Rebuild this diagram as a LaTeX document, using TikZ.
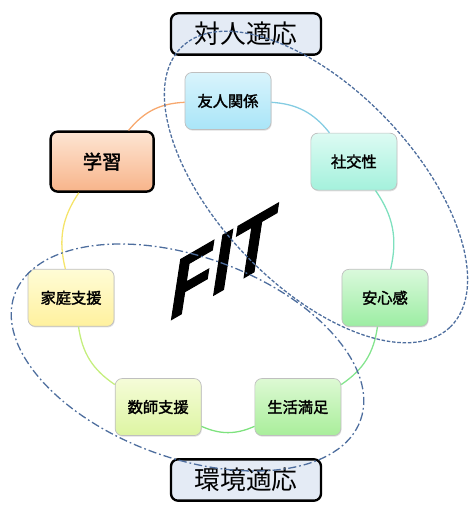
\documentclass[tikz,border=0pt]{standalone}
\usepackage{fontspec}
\setmainfont{Liberation Sans}
\newfontfamily\jpfont{Noto Sans CJK JP}
\newfontfamily\jpbold[FakeBold=2]{Noto Sans CJK JP}
\newfontfamily\logofont[FakeBold=1.5]{Liberation Sans}
\usetikzlibrary{%
	calc,%
	shadows%
}
% factor colours (top / bottom of the shading)
\definecolor{yujinA}{HTML}{D9F4FC}\definecolor{yujinB}{HTML}{A9E5F8}
\definecolor{shakouA}{HTML}{DDFBF3}\definecolor{shakouB}{HTML}{A4F1DC}
\definecolor{anshinA}{HTML}{DAF9DC}\definecolor{anshinB}{HTML}{9CEDA3}
\definecolor{seikatsuA}{HTML}{DDF9D3}\definecolor{seikatsuB}{HTML}{A9EE9B}
\definecolor{kyoshiA}{HTML}{F5FCD8}\definecolor{kyoshiB}{HTML}{DDF5A2}
\definecolor{kateiA}{HTML}{FFFCD6}\definecolor{kateiB}{HTML}{FFF19E}
\definecolor{gakushuA}{HTML}{FDE5D3}\definecolor{gakushuB}{HTML}{F8B48A}
\definecolor{labelfill}{HTML}{E4EBF5}
\definecolor{ovalblue}{HTML}{4E6E9E}
% ring colours
\definecolor{ringOrange}{HTML}{F7A86E}
\definecolor{ringYellow}{HTML}{F5E46A}
\definecolor{ringLime}{HTML}{C5EE7E}
\definecolor{ringGreen}{HTML}{7EE27E}
\definecolor{ringMint}{HTML}{84E48E}
\definecolor{ringAqua}{HTML}{7EE0BE}
\definecolor{ringSky}{HTML}{84CCE2}

\tikzset{
	factor/.style={rounded corners=6pt, draw=black!25, line width=0.6pt,
		minimum width=2.58cm, minimum height=1.71cm,
		font=\jpbold\fontsize{13}{13}\selectfont,
		drop shadow={shadow xshift=0.6pt, shadow yshift=-1pt, opacity=0.25}},
	keyfactor/.style={factor, draw=black, line width=2pt,
		minimum width=3.09cm, minimum height=1.8cm,
		font=\jpbold\fontsize{16.5}{16.5}\selectfont},
	adaptbox/.style={rounded corners=6pt, draw=black, line width=2pt, fill=labelfill,
		minimum width=4.5cm, minimum height=1.24cm,
		font=\jpfont\fontsize{22}{22}\selectfont},
	ringline/.style={line width=1.1pt},
	oval/.style={ovalblue, line width=1.1pt}
}

\begin{document}
\begin{tikzpicture}[x=0.03cm, y=0.03cm]
	\useasboundingbox (0,0) rectangle (469,507);
	\coordinate (ring) at (228,245);
	% the seven factors round the ring
	\node[keyfactor, top color=gakushuA, bottom color=gakushuB] (gakushu)
		at ($(ring)+({90+360/7}:161)$) {学習};
	\foreach \nm/\txt/\k in {yujin/友人関係/0, katei/家庭支援/2, kyoshi/数師支援/3,
		seikatsu/生活満足/4, anshin/安心感/5, shakou/社交性/6}
		\node[factor, top color=\nm A, bottom color=\nm B] (\nm)
			at ($(ring)+({90+\k*360/7}:161)$) {\txt};
	\foreach \a/\b/\c in {yujin/gakushu/ringOrange, gakushu/katei/ringYellow,
		katei/kyoshi/ringLime, kyoshi/seikatsu/ringGreen, seikatsu/anshin/ringMint,
		anshin/shakou/ringAqua, shakou/yujin/ringSky}
		\draw[ringline, \c] (\a) to[bend right=24] (\b);
	% the two adaptation labels
	\node[adaptbox] (taijin) at (246,473) {対人適応};
	\node[adaptbox] (kankyo) at (246,27) {環境適応};
	\node[cm={0.866,0.5,0,1,(0,0)}, font=\logofont\bfseries\itshape\fontsize{68}{68}\selectfont]
		(fitlogo) at (222,244) {FIT};
	% groupings
	\draw[oval, dash pattern=on 3pt off 1.5pt] (316,320) circle [x radius=194, y radius=98, rotate=-46.3];
	\draw[oval, dash pattern=on 7pt off 2.5pt on 1.5pt off 2.5pt] (187.5,149.5) circle [x radius=184, y radius=100.5, rotate=-20];
\end{tikzpicture}
\end{document}
